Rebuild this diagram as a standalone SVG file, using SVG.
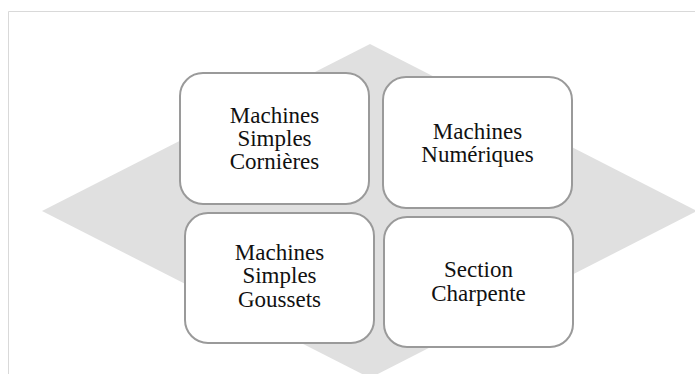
<svg xmlns="http://www.w3.org/2000/svg" width="695" height="374" viewBox="0 0 695 374">
<style>
.box{fill:#fff;stroke:#9a9a9a;stroke-width:2}
.lbl{font-family:"Liberation Serif","Times New Roman",serif;font-size:23px;fill:#111;text-anchor:middle}
</style>
<rect width="695" height="374" fill="#fff"/>
<path d="M8.5 374 V11.5 H695" fill="none" stroke="#d9d9d9" stroke-width="1"/>
<polygon points="370,44 697,211 370,378 42,211" fill="#e0e0e0"/>
<g id="connectors"></g>
<g id="n1">
<rect class="box" x="180" y="73" width="189" height="131" rx="23"/>
<text class="lbl" x="274.5" y="123">Machines</text>
<text class="lbl" x="274.5" y="146">Simples</text>
<text class="lbl" x="274.5" y="169">Cornières</text>
</g>
<g id="n2">
<rect class="box" x="383" y="77" width="189" height="131" rx="23"/>
<text class="lbl" x="477.5" y="139">Machines</text>
<text class="lbl" x="477.5" y="162">Numériques</text>
</g>
<g id="n3">
<rect class="box" x="185" y="213" width="189" height="130" rx="23"/>
<text class="lbl" x="279.5" y="260">Machines</text>
<text class="lbl" x="279.5" y="283">Simples</text>
<text class="lbl" x="279.5" y="307">Goussets</text>
</g>
<g id="n4">
<rect class="box" x="384" y="217" width="189" height="130" rx="23"/>
<text class="lbl" x="478.5" y="277">Section</text>
<text class="lbl" x="478.5" y="301">Charpente</text>
</g>
</svg>
